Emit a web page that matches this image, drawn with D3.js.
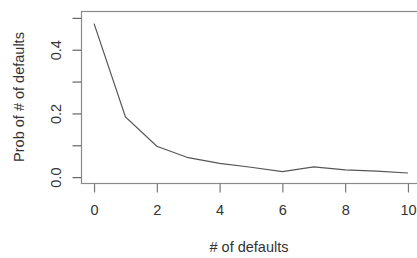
<!DOCTYPE html>
<html>
<head>
<meta charset="utf-8">
<script src="https://cdn.jsdelivr.net/npm/d3@7"></script>
<style>
  body { margin: 0; background: #fff; }
  svg { display: block; }
  text { font-family: "Liberation Sans", Arial, sans-serif; fill: #333; }
</style>
</head>
<body>
<svg id="chart" width="417" height="258"></svg>
<script>
var defaults = [0, 1, 2, 3, 4, 5, 6, 7, 8, 9, 10];
var probs = [0.482, 0.189, 0.097, 0.061, 0.043, 0.031, 0.017, 0.032, 0.023, 0.019, 0.013];
var xTicks = [0, 2, 4, 6, 8, 10];
var yTicks = [0, 0.1, 0.2, 0.3, 0.4, 0.5];
var yLabels = [0, 0.2, 0.4];

function drawChart() {
    let chart = d3.select("#chart");

    let x = d3.scaleLinear()
        .domain([-0.4, 10.4])
        .range([81.5, 420.5]);

    let y = d3.scaleLinear()
        .domain([-0.02, 0.52])
        .range([183.5, 11.5]);

    // plot box (right side runs off the picture)
    chart.append("rect")
        .attr("x", x.range()[0])
        .attr("y", y.range()[1])
        .attr("width", x.range()[1] - x.range()[0])
        .attr("height", y.range()[0] - y.range()[1])
        .style("fill", "none")
        .style("stroke", "#8a8a8a")
        .style("stroke-width", "1.2px");

    let xAxis = d3.axisBottom(x)
        .tickValues(xTicks)
        .tickSize(9)
        .tickPadding(12)
        .tickFormat(d3.format("d"));

    let gx = chart.append("g")
        .attr("transform", "translate(0," + y.range()[0] + ")")
        .call(xAxis);
    gx.select(".domain").remove();
    gx.selectAll(".tick line").style("stroke", "#777").style("stroke-width", "1.2px");
    gx.selectAll(".tick text")
        .style("font-size", "14.5px")
        .style("fill", "#333");

    let yAxis = d3.axisLeft(y)
        .tickValues(yTicks)
        .tickSize(9)
        .tickFormat(d => yLabels.some(v => Math.abs(v - d) < 1e-9) ? d3.format(".1f")(d) : "");

    let gy = chart.append("g")
        .attr("transform", "translate(" + x.range()[0] + ",0)")
        .call(yAxis);
    gy.select(".domain").remove();
    gy.selectAll(".tick line").style("stroke", "#666").style("stroke-width", "1.2px");
    gy.selectAll(".tick text")
        .attr("x", 0)
        .attr("dy", null)
        .attr("transform", "translate(-26,0) rotate(-90)")
        .attr("text-anchor", "middle")
        .attr("dominant-baseline", "central")
        .style("font-size", "14.5px")
        .style("fill", "#333");

    let line = d3.line()
        .x((d, i) => x(defaults[i]))
        .y(d => y(d));

    chart.append("path")
        .datum(probs)
        .attr("d", line)
        .style("fill", "none")
        .style("stroke", "#555")
        .style("stroke-width", "1.2px");

    chart.append("text")
        .attr("x", 249)
        .attr("y", 247)
        .attr("text-anchor", "middle")
        .attr("dominant-baseline", "central")
        .style("font-size", "14.5px")
        .text("# of defaults");

    chart.append("text")
        .attr("transform", "translate(19," + 97 + ") rotate(-90)")
        .attr("text-anchor", "middle")
        .attr("dominant-baseline", "central")
        .style("font-size", "14.5px")
        .text("Prob of # of defaults");
}

drawChart();
</script>
</body>
</html>
